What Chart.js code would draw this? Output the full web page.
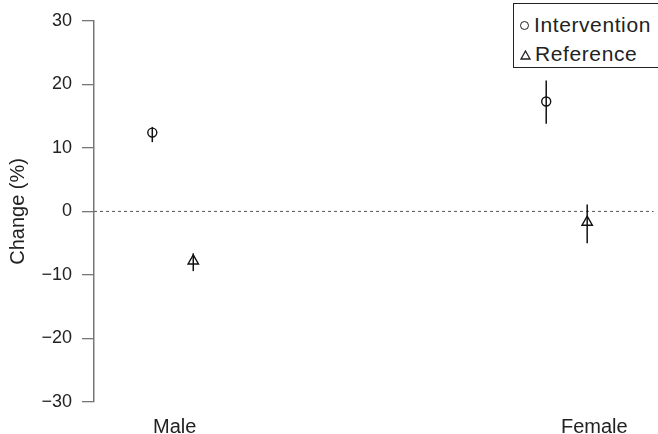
<!DOCTYPE html>
<html>
<head>
<meta charset="utf-8">
<script src="https://cdn.jsdelivr.net/npm/chart.js@4"></script>
<style>
  body { margin: 0; background: #fff; overflow: hidden; }
  #wrap { position: relative; width: 658px; height: 434px; overflow: hidden; }
  #legend {
    position: absolute; left: 513px; top: 3px; width: 160px; height: 63px;
    border: 1.5px solid #222; background: #fff;
    font-family: 'Liberation Sans', Arial, sans-serif; font-size: 21px; color: #222;
    letter-spacing: 0.6px;
  }
  .row { position: absolute; left: 6px; height: 26px; line-height: 26px; white-space: nowrap; }
  .circ { display: inline-block; width: 7px; height: 7px; border: 1.3px solid #222; border-radius: 50%; margin-right: 5px; vertical-align: 2px; }
  svg { margin-right: 4px; vertical-align: 1px; }
</style>
</head>
<body>
<div id="wrap">
  <canvas id="chart" width="658" height="434"></canvas>
  <div id="legend">
    <div class="row" style="top:8px"><span class="circ"></span>Intervention</div>
    <div class="row" style="top:37px"><svg width="11" height="10"><polygon points="5.5,1 10,9 1,9" fill="none" stroke="#222" stroke-width="1.3"/></svg>Reference</div>
  </div>
</div>
<script>
const groups = ['Male', 'Female'];
const groupPos = [1, 2];
const labelPos = [1.005, 2.07];
const interventionMean = [12.4, 17.3];
const interventionLow = [10.9, 13.8];
const interventionHigh = [13.3, 20.6];
const referenceMean = [-7.8, -1.7];
const referenceLow = [-9.4, -5.0];
const referenceHigh = [-6.6, 1.1];
const yTicks = [-30, -20, -10, 0, 10, 20, 30];

const dodge = 0.052;
const font = "'Liberation Sans', Arial, sans-serif";

function points(mean, low, high, shift) {
    return mean.map((v, i) => ({ x: groupPos[i] + shift, y: v, lo: low[i], hi: high[i] }));
}

// vertical error bars + dashed zero line
const extras = {
    id: 'extras',
    beforeDatasetsDraw(chart) {
        const { ctx, chartArea, scales } = chart;
        const y0 = scales.y.getPixelForValue(0);
        ctx.save();
        ctx.strokeStyle = '#555';
        ctx.lineWidth = 1;
        ctx.setLineDash([3, 3]);
        ctx.beginPath();
        ctx.moveTo(chartArea.left, y0);
        ctx.lineTo(chartArea.right + 3, y0);
        ctx.stroke();
        ctx.restore();
    },
    afterDatasetsDraw(chart) {
        const { ctx, scales } = chart;
        ctx.save();
        ctx.strokeStyle = '#111';
        ctx.lineWidth = 1.5;
        chart.data.datasets.forEach(ds => {
            ds.data.forEach(p => {
                const x = scales.x.getPixelForValue(p.x);
                ctx.beginPath();
                ctx.moveTo(x, scales.y.getPixelForValue(p.lo));
                ctx.lineTo(x, scales.y.getPixelForValue(p.hi));
                ctx.stroke();
            });
        });
        ctx.restore();
    }
};

new Chart(document.getElementById('chart').getContext('2d'), {
    type: 'scatter',
    data: {
        datasets: [{
            label: 'Intervention',
            data: points(interventionMean, interventionLow, interventionHigh, -dodge),
            pointStyle: 'circle',
            pointRadius: 4.5,
            borderColor: '#111',
            backgroundColor: 'rgba(255,255,255,0)',
            borderWidth: 1.4
        }, {
            label: 'Reference',
            data: points(referenceMean, referenceLow, referenceHigh, dodge),
            pointStyle: 'triangle',
            pointRadius: 6,
            borderColor: '#111',
            backgroundColor: 'rgba(255,255,255,0)',
            borderWidth: 1.4
        }]
    },
    options: {
        responsive: false,
        animation: false,
        layout: { padding: { top: 18, right: 0, left: 6, bottom: 0 } },
        plugins: { legend: { display: false }, tooltip: { enabled: false } },
        scales: {
            x: {
                type: 'linear',
                min: 0.8,
                max: 2.213,
                grid: { display: false },
                border: { display: false },
                afterBuildTicks(axis) { axis.ticks = labelPos.map(v => ({ value: v })); },
                afterFit(axis) { axis.height = 32; },
                ticks: {
                    font: { family: font, size: 20 },
                    color: '#222',
                    padding: 5,
                    maxRotation: 0,
                    callback: (v, i) => groups[i]
                }
            },
            y: {
                min: -30,
                max: 30,
                afterBuildTicks(axis) { axis.ticks = yTicks.map(v => ({ value: v })); },
                afterFit(axis) { axis.width = 88; },
                grid: { drawOnChartArea: false, drawTicks: true, tickLength: 12, color: '#777', lineWidth: 1.3 },
                border: { color: '#777', width: 1.5 },
                ticks: {
                    font: { family: font, size: 18 },
                    color: '#222',
                    padding: 10,
                    callback: v => String(v).replace('-', '\u2212')
                },
                title: {
                    display: true,
                    text: 'Change (%)',
                    font: { family: font, size: 20 },
                    color: '#222',
                    padding: { top: 0, bottom: 0 }
                }
            }
        }
    },
    plugins: [extras]
});
</script>
</body>
</html>
